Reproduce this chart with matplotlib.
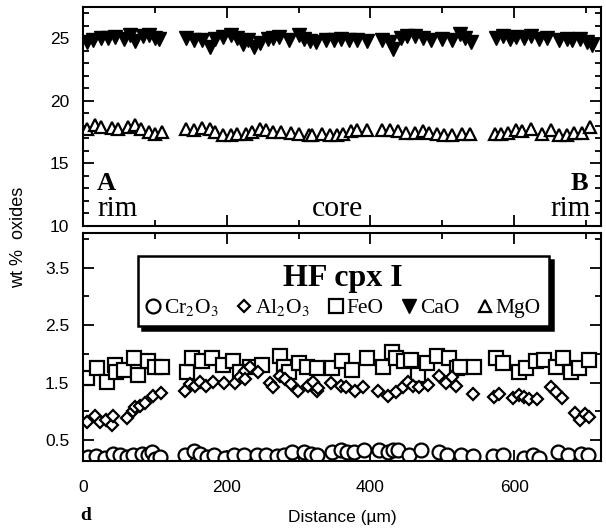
import matplotlib.pyplot as plt
from matplotlib.ticker import MultipleLocator, FixedLocator

plt.rcParams['font.family'] = 'Liberation Sans'
plt.rcParams['mathtext.fontset'] = 'stix'

# CaO (wt %), top panel
cao_x = [6, 14, 25, 35, 44, 57, 65, 73, 84, 92, 100, 106,
         143, 154, 165, 176, 184, 195, 206, 214, 222, 230, 238, 246, 257, 265,
         273, 287, 300, 308, 316, 324, 338, 349, 359, 370, 381, 395, 416, 427,
         432, 443, 451, 462, 473, 484, 500, 513, 524, 532, 540,
         575, 584, 594, 602, 613, 624, 635, 646, 662, 673, 681, 692, 702, 708]
cao_wt = [24.69, 24.89, 25.05, 25.05, 25.10, 24.97, 25.24, 24.77, 25.15, 25.24, 25.05, 24.97,
          25.05, 24.89, 24.83, 24.28, 24.97, 25.10, 25.24, 25.05, 24.56, 24.83, 24.28, 24.61, 24.97, 25.05,
          25.10, 24.89, 25.24, 24.97, 24.77, 24.69, 24.89, 24.89, 24.97, 24.89, 24.83, 24.77, 24.89, 24.69,
          24.15, 25.05, 25.15, 25.15, 25.05, 24.89, 24.97, 24.89, 25.32, 25.05, 24.69,
          25.05, 25.15, 24.97, 25.10, 25.05, 25.15, 24.97, 25.05, 24.89, 24.97, 24.89, 24.97, 24.69, 24.50]

# MgO (wt %), top panel
mgo_x = [6, 16, 25, 41, 49, 62, 73, 81, 92, 100, 110,
         143, 154, 165, 176, 184, 195, 206, 214, 227, 235, 246, 254, 265, 276,
         289, 300, 314, 319, 332, 343, 354, 362, 373, 381, 395, 416, 427, 438,
         449, 462, 473, 481, 492, 503, 513, 527, 538,
         573, 581, 592, 602, 611, 624, 638, 651, 662, 673, 683, 694, 705]
mgo_wt = [17.78, 18.06, 17.92, 17.84, 17.78, 17.92, 18.06, 17.78, 17.51, 17.37, 17.51,
          17.78, 17.65, 17.84, 17.78, 17.51, 17.29, 17.24, 17.37, 17.37, 17.51, 17.78, 17.65, 17.51, 17.51,
          17.46, 17.37, 17.24, 17.29, 17.37, 17.29, 17.24, 17.37, 17.57, 17.65, 17.65, 17.65, 17.65, 17.57,
          17.46, 17.46, 17.57, 17.46, 17.37, 17.24, 17.29, 17.37, 17.37,
          17.37, 17.37, 17.46, 17.65, 17.57, 17.78, 17.37, 17.65, 17.29, 17.29, 17.46, 17.46, 17.95]

# FeO (wt %), bottom panel
feo_x = [6, 19, 33, 44, 46, 57, 71, 76, 90, 100, 110,
         144, 152, 165, 179, 195, 209, 219, 233, 249, 274, 279, 287, 301, 311, 325,
         347, 360, 374, 395, 417, 430, 436, 447, 457, 466, 479, 493, 509, 520, 525, 544,
         574, 585, 606, 617, 631, 641, 658, 668, 679, 690, 704]
feo_wt = [1.58, 1.75, 1.52, 1.81, 1.69, 1.72, 1.93, 1.64, 1.87, 1.78, 1.78,
          1.69, 1.93, 1.87, 1.93, 1.81, 1.87, 1.69, 1.78, 1.81, 1.96, 1.78, 1.69, 1.84, 1.78, 1.75,
          1.75, 1.87, 1.72, 1.93, 1.78, 2.04, 1.93, 1.87, 1.90, 1.64, 1.84, 1.96, 1.93, 1.75, 1.78, 1.78,
          1.93, 1.84, 1.69, 1.75, 1.87, 1.90, 1.78, 1.93, 1.69, 1.75, 1.90]

# Al2O3 (wt %), bottom panel
al_x = [6, 17, 24, 32, 40, 42, 61, 69, 72, 79, 86, 98, 109,
        142, 149, 156, 163, 171, 181, 196, 211, 218, 225, 226, 232, 244, 260,
        264, 274, 281, 290, 299, 313, 320, 325, 327, 345, 359, 366, 378, 389,
        410, 424, 436, 445, 452, 459, 468, 480, 496, 505, 514, 519, 542,
        572, 579, 598, 607, 614, 621, 632, 651, 658, 667, 684, 692, 699, 704]
al_wt = [0.81, 0.92, 0.81, 0.86, 0.77, 0.92, 0.89, 1.01, 1.07, 1.10, 1.15, 1.27, 1.32,
         1.36, 1.48, 1.44, 1.51, 1.45, 1.51, 1.50, 1.50, 1.60, 1.71, 1.57, 1.77, 1.68, 1.50,
         1.42, 1.62, 1.57, 1.48, 1.36, 1.45, 1.51, 1.36, 1.40, 1.50, 1.45, 1.42, 1.36, 1.42,
         1.36, 1.27, 1.34, 1.42, 1.51, 1.45, 1.42, 1.46, 1.62, 1.50, 1.60, 1.44, 1.30,
         1.25, 1.30, 1.24, 1.28, 1.25, 1.22, 1.22, 1.42, 1.33, 1.24, 0.98, 0.86, 0.95, 0.90]

# Cr2O3 (wt %), bottom panel
cr_x = [7, 18, 31, 42, 52, 61, 70, 82, 91, 96, 100, 107,
        142, 154, 163, 173, 182, 198, 210, 224, 242, 254,
        270, 280, 291, 308, 317, 326, 347, 359, 368, 377,
        391, 412, 424, 431, 438, 454, 470, 496, 507, 526,
        542, 570, 584, 614, 626, 635, 661, 675, 693, 703]
cr_wt = [0.21, 0.22, 0.19, 0.27, 0.24, 0.21, 0.25, 0.26, 0.25, 0.30, 0.18, 0.21,
         0.25, 0.31, 0.27, 0.21, 0.25, 0.19, 0.25, 0.24, 0.25, 0.25,
         0.23, 0.24, 0.29, 0.29, 0.27, 0.24, 0.30, 0.33, 0.29, 0.29,
         0.33, 0.33, 0.29, 0.33, 0.33, 0.24, 0.33, 0.29, 0.24, 0.25,
         0.23, 0.23, 0.25, 0.19, 0.25, 0.19, 0.29, 0.24, 0.27, 0.24]

fig = plt.figure(figsize=(6.06, 5.30), dpi=100)
ax1 = fig.add_axes([0.137, 0.5736, 0.855, 0.4132])
ax2 = fig.add_axes([0.137, 0.1302, 0.855, 0.4302])

h_cao, = ax1.plot(cao_x, cao_wt, 'v', ms=10, color='k', mew=1.0)
h_mgo, = ax1.plot(mgo_x, mgo_wt, '^', ms=8.5, mfc='white', mec='k', mew=1.6)

h_feo, = ax2.plot(feo_x, feo_wt, 's', ms=10, mfc='white', mec='k', mew=1.6)
h_al, = ax2.plot(al_x, al_wt, 'D', ms=6.5, mfc='white', mec='k', mew=1.6)
h_cr, = ax2.plot(cr_x, cr_wt, 'o', ms=10, mfc='white', mec='k', mew=1.6)

for ax in (ax1, ax2):
    ax.set_xlim(0, 721)
    ax.xaxis.set_major_locator(MultipleLocator(200))
    ax.xaxis.set_minor_locator(MultipleLocator(100))
    ax.tick_params(which='both', direction='in', top=True, right=True, width=1.3,
                   labelsize=12.5)
    ax.tick_params(which='major', length=8, pad=10)
    ax.tick_params(which='minor', length=4)
    for s in ax.spines.values():
        s.set_linewidth(1.5)

ax1.set_ylim(10, 27.5)
ax1.yaxis.set_major_locator(MultipleLocator(5))
ax1.yaxis.set_minor_locator(MultipleLocator(1))
ax1.tick_params(labelbottom=False)

ax2.set_ylim(0.14, 4.1)
ax2.yaxis.set_major_locator(FixedLocator([0.5, 1.5, 2.5, 3.5]))
ax2.yaxis.set_minor_locator(FixedLocator([1, 2, 3, 4]))
ax2.set_yticklabels(['0.5', '1.5', '2.5', '3.5'])
ax2.tick_params(axis='x', which='major', pad=14)
ax2.set_xlabel('Distance (\u00b5m)', fontsize=12.5)
ax2.xaxis.set_label_coords(0.5, -0.215)

serif = 'Liberation Serif'
ax1.text(0.027, 0.165, 'A', transform=ax1.transAxes, family=serif, weight='bold',
         fontsize=19, ha='left', va='baseline')
ax1.text(0.027, 0.045, 'rim', transform=ax1.transAxes, family=serif, fontsize=21,
         ha='left', va='baseline')
ax1.text(0.492, 0.045, 'core', transform=ax1.transAxes, family=serif, fontsize=21.5,
         ha='center', va='baseline')
ax1.text(0.975, 0.165, 'B', transform=ax1.transAxes, family=serif, weight='bold',
         fontsize=19, ha='right', va='baseline')
ax1.text(0.979, 0.045, 'rim', transform=ax1.transAxes, family=serif, fontsize=21,
         ha='right', va='baseline')

leg = ax2.legend([h_cr, h_al, h_feo, h_cao, h_mgo],
                 ['Cr$_2$O$_3$', 'Al$_2$O$_3$', 'FeO', 'CaO', 'MgO'],
                 ncol=5, loc='upper center', bbox_to_anchor=(0.502, 0.945),
                 title='HF cpx I',
                 title_fontproperties={'family': serif, 'weight': 'bold', 'size': 23},
                 prop={'family': serif, 'size': 15.5},
                 handlelength=0.7, handletextpad=0.15, columnspacing=0.85,
                 borderpad=0.35, labelspacing=0.2, fancybox=False, framealpha=1,
                 edgecolor='k',
                 shadow={'ox': 3, 'oy': -3, 'facecolor': 'k', 'edgecolor': 'k', 'alpha': 1})
leg.get_frame().set_linewidth(1.8)

fig.text(0.03, 1 - 237 / 530, 'wt %  oxides', rotation=90, ha='center', va='center',
         fontsize=13)
fig.text(0.142, 1 - 515 / 530, 'd', family=serif, weight='bold', fontsize=14,
         ha='center', va='center')

fig.savefig('out.png', dpi=100)
